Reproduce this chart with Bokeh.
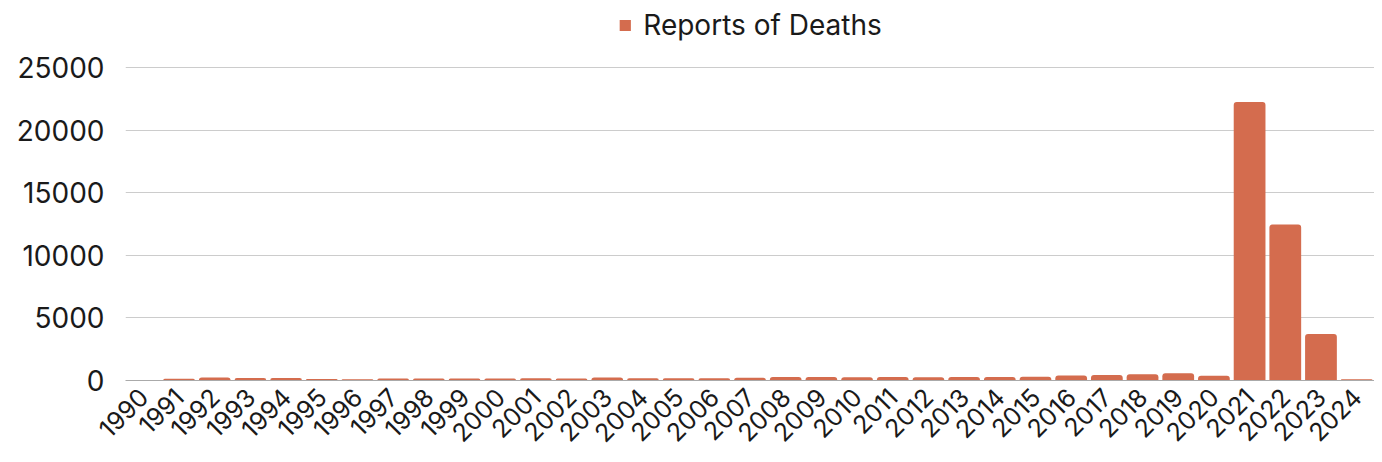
import math
from bokeh.plotting import figure
from bokeh.models import ColumnDataSource, Legend, LegendItem, Range1d, FixedTicker
from bokeh.embed import file_html
from bokeh.resources import INLINE

years = [str(y) for y in range(1990, 2025)]
deaths = [40, 130, 240, 190, 190, 110, 100, 150, 150, 150,
          160, 170, 150, 230, 170, 170, 170, 220, 270, 270,
          260, 270, 260, 270, 280, 300, 400, 430, 500, 580,
          370, 22250, 12450, 3720, 100]
y_ticks = [0, 5000, 10000, 15000, 20000, 25000]

FONT = "Inter"
BAR = "#D46C4E"
TXT = "#1a1a1a"

src = ColumnDataSource(dict(year=years, deaths=deaths))

p = figure(x_range=years, y_range=Range1d(0, 30350), width=1374, height=454,
           output_backend="svg", toolbar_location=None,
           min_border_left=125, min_border_right=0, min_border_top=0, min_border_bottom=74)
p.outline_line_color = None

r = p.vbar(x="year", top="deaths", width=0.89, source=src, fill_color=BAR, line_color=None,
           border_radius=[3, 3, 0, 0])

p.yaxis.ticker = FixedTicker(ticks=y_ticks)
p.yaxis.axis_line_color = None
p.yaxis.major_tick_line_color = None
p.yaxis.minor_tick_line_color = None
p.yaxis.major_label_text_font = FONT
p.yaxis.major_label_text_font_size = "28px"
p.yaxis.major_label_text_color = TXT
p.yaxis.major_label_standoff = 15

p.xaxis.axis_line_color = "#aaaaaa"
p.xaxis.major_tick_line_color = None
p.xaxis.minor_tick_line_color = None
p.xaxis.major_label_orientation = math.pi / 4
p.xaxis.major_label_text_font = FONT
p.xaxis.major_label_text_font_size = "25px"
p.xaxis.major_label_text_color = TXT
p.xaxis.major_label_standoff = 6

p.xgrid.grid_line_color = None
p.ygrid.grid_line_color = "#cccccc"
p.ygrid.grid_line_width = 1

legend = Legend(items=[LegendItem(label="Reports of Deaths", renderers=[r])],
                orientation="horizontal", location="top_center",
                label_text_font=FONT, label_text_font_size="28px",
                label_text_color=TXT, glyph_width=14, glyph_height=14,
                label_standoff=12,
                border_line_color=None, background_fill_alpha=0, padding=4, margin=8)
p.add_layout(legend)

open("out.html", "w").write(file_html(p, INLINE))
